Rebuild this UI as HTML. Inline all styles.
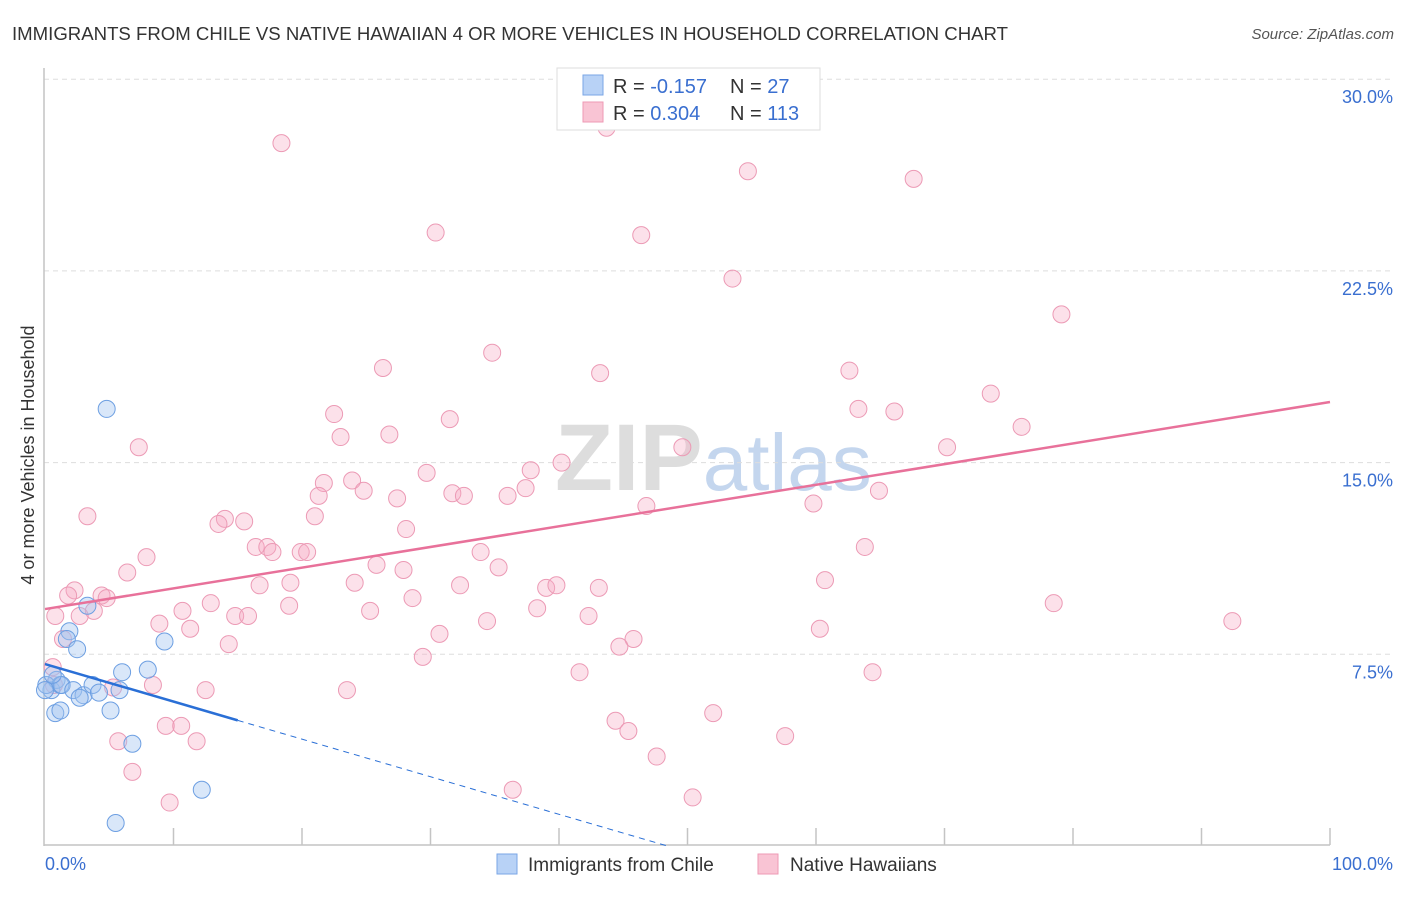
<!DOCTYPE html>
<html><head><meta charset="utf-8"><style>
body{margin:0;background:#fff;font-family:"Liberation Sans",sans-serif;}
svg text{font-family:"Liberation Sans",sans-serif;}
</style></head><body>
<svg id="chart" width="1406" height="892" xmlns="http://www.w3.org/2000/svg">
<text x="12" y="40" font-size="18" fill="#333" textLength="996" lengthAdjust="spacingAndGlyphs">IMMIGRANTS FROM CHILE VS NATIVE HAWAIIAN 4 OR MORE VEHICLES IN HOUSEHOLD CORRELATION CHART</text>
<text x="1394" y="39" font-size="15" fill="#555" text-anchor="end" font-style="italic">Source: ZipAtlas.com</text>
<text x="555" y="490" font-size="95" fill="#ddd" font-family="Liberation Serif" font-weight="bold">ZIP<tspan fill="#c4d6ee" font-family="Liberation Sans" font-weight="normal" font-size="80">atlas</tspan></text>
<g id="grid"></g><g id="axes"></g><g id="pts"></g><g id="lines"></g>
<text transform="translate(34,455) rotate(-90)" font-size="18" fill="#333" text-anchor="middle">4 or more Vehicles in Household</text>
<g>
<rect x="557" y="68" width="263" height="62" fill="#fff" stroke="#ddd"/>
<rect x="583" y="75" width="20" height="20" fill="#b8d2f6" stroke="#7aa6e6"/>
<rect x="583" y="102" width="20" height="20" fill="#f9c4d4" stroke="#ee9ab4"/>
<text x="613" y="93" font-size="20" fill="#333">R = <tspan fill="#3a6fd0">-0.157</tspan></text>
<text x="730" y="93" font-size="20" fill="#333">N = <tspan fill="#3a6fd0"> 27</tspan></text>
<text x="613" y="120" font-size="20" fill="#333">R = <tspan fill="#3a6fd0"> 0.304</tspan></text>
<text x="730" y="120" font-size="20" fill="#333">N = <tspan fill="#3a6fd0">113</tspan></text>
</g>
<g>
<rect x="497" y="854" width="20" height="20" fill="#b8d2f6" stroke="#7aa6e6"/>
<text x="528" y="871" font-size="19" fill="#333">Immigrants from Chile</text>
<rect x="758" y="854" width="20" height="20" fill="#f9c4d4" stroke="#ee9ab4"/>
<text x="790" y="871" font-size="19" fill="#333">Native Hawaiians</text>
</g>
</svg>
<script>
const yTicks=[7.5,15,22.5,30];
const yTickLabels=["7.5%","15.0%","22.5%","30.0%"];
const xEndLabels=["0.0%","100.0%"];
const pinkX=[18.4,43.7,41.6,54.7,67.6,30.4,46.4,53.5,79.1,34.8,26.3,43.2,62.6,73.6,22.5,31.5,63.3,66.1,76.0,7.3,23.0,26.8,70.2,49.6,40.2,37.8,29.7,23.9,21.7,21.3,24.8,31.7,32.6,27.4,36.0,37.4,64.9,59.8,46.8,3.3,21.0,14.0,13.5,15.5,28.1,16.4,17.3,17.7,19.9,20.4,33.9,63.8,7.9,6.4,25.8,35.3,27.9,60.7,16.7,19.1,24.1,32.3,43.1,39.0,39.8,2.3,1.8,4.4,4.8,28.6,12.9,10.7,25.3,19.0,38.3,78.5,3.8,0.8,2.7,14.8,15.8,34.4,42.3,92.4,8.9,11.3,1.4,30.7,45.8,44.7,60.3,14.3,29.4,41.6,64.4,8.4,5.3,12.5,23.5,44.4,45.4,52.0,9.4,10.6,5.7,11.8,57.6,47.6,6.8,36.4,9.7,50.4,0.6,0.7];
const pinkY=[27.5,28.1,29.5,26.4,26.1,24.0,23.9,22.2,20.8,19.3,18.7,18.5,18.6,17.7,16.9,16.7,17.1,17.0,16.4,15.6,16.0,16.1,15.6,15.6,15.0,14.7,14.6,14.3,14.2,13.7,13.9,13.8,13.7,13.6,13.7,14.0,13.9,13.4,13.3,12.9,12.9,12.8,12.6,12.7,12.4,11.7,11.7,11.5,11.5,11.5,11.5,11.7,11.3,10.7,11.0,10.9,10.8,10.4,10.2,10.3,10.3,10.2,10.1,10.1,10.2,10.0,9.8,9.8,9.7,9.7,9.5,9.2,9.2,9.4,9.3,9.5,9.2,9.0,9.0,9.0,9.0,8.8,9.0,8.8,8.7,8.5,8.1,8.3,8.1,7.8,8.5,7.9,7.4,6.8,6.8,6.3,6.2,6.1,6.1,4.9,4.5,5.2,4.7,4.7,4.1,4.1,4.3,3.5,2.9,2.2,1.7,1.9,7.0,6.3];
const blueX=[4.8,3.3,1.9,1.7,2.5,9.3,0.5,0.9,0.1,1.2,1.3,2.2,3.0,2.7,3.7,4.2,5.8,6.0,8.0,5.1,0.8,1.2,6.8,12.2,5.5,0.6,0];
const blueY=[17.1,9.4,8.4,8.1,7.7,8.0,6.1,6.5,6.3,6.3,6.3,6.1,5.9,5.8,6.3,6.0,6.1,6.8,6.9,5.3,5.2,5.3,4.0,2.2,0.9,6.7,6.1];
const pinkTrend=[9.27,17.37];
const blueTrend=[7.12,-0.147];
const NS="http://www.w3.org/2000/svg";
const X=v=>45+v*12.85, Y=v=>846-v*25.56;
function mk(tag,attrs,parent){const e=document.createElementNS(NS,tag);for(const k in attrs)e.setAttribute(k,attrs[k]);document.getElementById(parent).appendChild(e);return e;}
yTicks.forEach((t,i)=>{
 const g=mk('line',{x1:44,x2:1393,y1:Y(t),y2:Y(t),stroke:'#ddd','stroke-dasharray':'5,4'},'grid');
 
 
 const l=mk('text',{x:1393,y:Y(t)+24,'font-size':18,fill:'#3a6fd0','text-anchor':'end'},'grid');
 l.textContent=yTickLabels[i];
 
 
});
const ya=mk('line',{x1:44,x2:44,y1:68,y2:846,stroke:'#c4c4c4','stroke-width':1.5},'axes');


const xa=mk('line',{x1:44,x2:1330,y1:845,y2:845,stroke:'#c4c4c4','stroke-width':1.5},'axes');


for(let i=1;i<=10;i++){const t=mk('line',{x1:X(i*10),x2:X(i*10),y1:828,y2:845,stroke:'#c4c4c4','stroke-width':1.5},'axes');
 
 }
[[0,'start',45],[100,'end',1393]].forEach((d,i)=>{const t=mk('text',{x:d[2],y:870,'font-size':18,fill:'#3a6fd0','text-anchor':d[1]},'axes');t.textContent=xEndLabels[i];
 
 });
pinkX.forEach((v,i)=>{const c=mk('circle',{cx:X(v),cy:Y(pinkY[i]),r:8.5,fill:'rgba(246,170,196,0.35)',stroke:'#ec9ab5','stroke-width':1},'pts');
 
 });
blueX.forEach((v,i)=>{const c=mk('circle',{cx:X(v),cy:Y(blueY[i]),r:8.5,fill:'rgba(160,195,240,0.4)',stroke:'#6d9fe2','stroke-width':1},'pts');
 
 });
const pl=mk('line',{x1:X(0),y1:Y(pinkTrend[0]),x2:X(100),y2:Y(pinkTrend[1]),stroke:'#e8719a','stroke-width':2.5},'lines');


const bx=15, bEnd=-blueTrend[0]/blueTrend[1];
const bl=mk('line',{x1:X(0),y1:Y(blueTrend[0]),x2:X(bx),y2:Y(blueTrend[0]+blueTrend[1]*bx),stroke:'#2a6fd6','stroke-width':2.5},'lines');


const bd=mk('line',{x1:X(bx),y1:Y(blueTrend[0]+blueTrend[1]*bx),x2:X(bEnd),y2:Y(0),stroke:'#2a6fd6','stroke-width':1,'stroke-dasharray':'6,5'},'lines');


</script>
</body></html>
